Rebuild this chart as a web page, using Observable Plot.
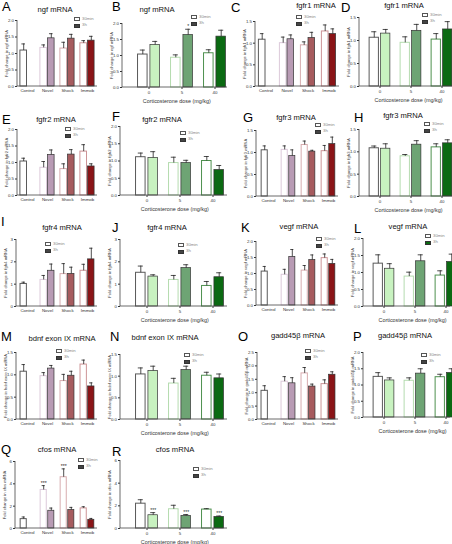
<!DOCTYPE html>
<html><head><meta charset="utf-8">
<script src="https://cdn.jsdelivr.net/npm/d3@7"></script>
<script src="https://cdn.jsdelivr.net/npm/@observablehq/plot@0.6"></script>
<style>
body{margin:0;background:#fff}
#root{position:relative;width:452px;height:544px;overflow:hidden;font-family:Arial,"Liberation Sans",sans-serif}
.abs{position:absolute;white-space:nowrap;line-height:1}
.letter{font-size:13px;color:#000;line-height:0.75}
.ttl{font-size:7.6px;color:#111;transform:translateX(-50%)}
.lgbox{position:absolute;width:6px;height:4px;box-sizing:border-box}
.lgtxt{position:absolute;font-size:4.3px;color:#888;line-height:1}
</style></head>
<body><div id="root"></div>
<script>
// categories
const stressGroups = ["Control", "Novel", "Shock", "Immob"];
const doseGroups = ["0", "5", "40"];
const timeLabels = ["30min", "3h"];
const doseAxisLabel = "Corticosterone dose (mg/kg)";
// colours
const stress30Stroke = ["#5a5a5a", "#dcc9da", "#d8acaf", "#cd9497"];
const stress3hFill = [null, "#b89bb4", "#a65b5e", "#8a1417"];
const dose30Stroke = ["#5a5a5a", "#b5dcaf", "#4e914f"];
const dose3hFill = ["#c8f2c0", "#6ea474", "#0b6a12"];
// tick values
const ticks15 = [0, 0.5, 1, 1.5];
const ticks2 = [0, 0.5, 1, 1.5, 2];
const ticks25 = [0, 0.5, 1, 1.5, 2, 2.5];
const ticks3 = [0, 1, 2, 3];
const ticks6 = [0, 2, 4, 6];

// values (mean, SEM)
const ngfStress30 = [1.09, 1.17, 1.15, 1.31], ngfStress30Sem = [0.20, 0.09, 0.19, 0.08];
const ngfStress3h = [null, 1.46, 1.45, 1.39], ngfStress3hSem = [null, 0.14, 0.13, 0.13];
const ngfCort30 = [1.03, 0.93, 1.07], ngfCort30Sem = [0.14, 0.09, 0.11];
const ngfCort3h = [1.33, 1.64, 1.59], ngfCort3hSem = [0.11, 0.18, 0.20];
const ngfCort3hStars = ["", "*", ""];

const fgfr1Stress30 = [1.08, 1.00, 0.95, 1.27], fgfr1Stress30Sem = [0.14, 0.14, 0.08, 0.15];
const fgfr1Stress3h = [null, 1.09, 1.12, 1.21], fgfr1Stress3hSem = [null, 0.10, 0.13, 0.12];
const fgfr1Cort30 = [1.06, 0.95, 1.02], fgfr1Cort30Sem = [0.13, 0.13, 0.13];
const fgfr1Cort3h = [1.15, 1.21, 1.24], fgfr1Cort3hSem = [0.09, 0.14, 0.17];

const fgfr2Stress30 = [1.03, 0.84, 0.80, 1.33], fgfr2Stress30Sem = [0.10, 0.19, 0.16, 0.21];
const fgfr2Stress3h = [null, 1.23, 1.24, 0.88], fgfr2Stress3hSem = [null, 0.15, 0.15, 0.08];
const fgfr2Cort30 = [1.11, 0.94, 1.00], fgfr2Cort30Sem = [0.12, 0.17, 0.13];
const fgfr2Cort3h = [1.09, 0.94, 0.74], fgfr2Cort3hSem = [0.18, 0.08, 0.13];

const fgfr3Stress30 = [1.05, 1.06, 1.17, 1.03], fgfr3Stress30Sem = [0.10, 0.09, 0.09, 0.13];
const fgfr3Stress3h = [null, 0.92, 1.02, 1.19], fgfr3Stress3hSem = [null, 0.14, 0.03, 0.16];
const fgfr3Cort30 = [1.08, 0.90, 1.10], fgfr3Cort30Sem = [0.05, 0.04, 0.08];
const fgfr3Cort3h = [1.07, 1.16, 1.19], fgfr3Cort3hSem = [0.11, 0.09, 0.08];

const fgfr4Stress30 = [1.01, 1.19, 1.45, 1.60], fgfr4Stress30Sem = [0.08, 0.20, 0.47, 0.29];
const fgfr4Stress3h = [null, 1.60, 1.46, 2.11], fgfr4Stress3hSem = [null, 0.30, 0.30, 0.50];
const fgfr4Cort30 = [1.51, 1.19, 0.92], fgfr4Cort30Sem = [0.30, 0.20, 0.20];
const fgfr4Cort3h = [1.34, 1.72, 1.31], fgfr4Cort3hSem = [0.08, 0.15, 0.20];

const vegfStress30 = [1.06, 0.96, 1.09, 1.48], vegfStress30Sem = [0.16, 0.17, 0.16, 0.13];
const vegfStress3h = [null, 1.52, 1.42, 1.30], vegfStress3hSem = [null, 0.23, 0.16, 0.14];
const vegfCort30 = [1.26, 0.88, 0.91], vegfCort30Sem = [0.26, 0.13, 0.14];
const vegfCort3h = [1.11, 1.33, 1.31], vegfCort3hSem = [0.15, 0.19, 0.23];

const bdnfStress30 = [1.07, 0.97, 0.86, 1.23], bdnfStress30Sem = [0.16, 0.08, 0.15, 0.10];
const bdnfStress3h = [null, 1.14, 0.98, 0.74], bdnfStress3hSem = [null, 0.07, 0.10, 0.08];
const bdnfCort30 = [1.04, 0.83, 1.01], bdnfCort30Sem = [0.15, 0.12, 0.08];
const bdnfCort3h = [1.12, 1.14, 0.95], bdnfCort3hSem = [0.11, 0.09, 0.10];

const gaddStress30 = [1.07, 1.41, 1.72, 1.32], gaddStress30Sem = [0.19, 0.19, 0.22, 0.16];
const gaddStress3h = [null, 1.35, 1.23, 1.67], gaddStress3hSem = [null, 0.21, 0.09, 0.11];
const gaddCort30 = [1.25, 1.13, 1.24], gaddCort30Sem = [0.13, 0.09, 0.09];
const gaddCort3h = [1.14, 1.35, 1.37], gaddCort3hSem = [0.08, 0.15, 0.13];

const cfosStress30 = [0.84, 3.45, 4.59, 1.80], cfosStress30Sem = [0.19, 0.39, 0.75, 0.15];
const cfosStress3h = [null, 1.59, 1.65, 0.78], cfosStress3hSem = [null, 0.24, 0.24, 0.12];
const cfosStress30Stars = ["", "***", "***", ""];
const cfosCort30 = [2.19, 1.70, 1.67], cfosCort30Sem = [0.35, 0.35, 0.08];
const cfosCort3h = [1.17, 1.11, 1.02], cfosCort3hSem = [0.23, 0.12, 0.08];
const cfosCort3hStars = ["***", "***", "***"];

const root = document.getElementById("root");

function addDiv(cls, text, left, top, extra) {
  const d = document.createElement("div");
  d.className = "abs " + cls;
  d.textContent = text;
  d.style.left = left + "px";
  d.style.top = top + "px";
  if (extra) Object.assign(d.style, extra);
  root.appendChild(d);
  return d;
}

function legend(x, y, fill3h) {
  const b1 = document.createElement("div");
  b1.className = "lgbox";
  Object.assign(b1.style, {left: x + "px", top: y + "px", border: "1px solid #555", background: "#fff"});
  const b2 = document.createElement("div");
  b2.className = "lgbox";
  Object.assign(b2.style, {left: x + "px", top: (y + 6.5) + "px", border: "1px solid #333", background: fill3h || "#444"});
  root.appendChild(b1); root.appendChild(b2);
  const t1 = document.createElement("div"); t1.className = "lgtxt"; t1.textContent = timeLabels[0];
  Object.assign(t1.style, {left: (x + 8) + "px", top: (y - 0.3) + "px"});
  const t2 = document.createElement("div"); t2.className = "lgtxt"; t2.textContent = timeLabels[1];
  Object.assign(t2.style, {left: (x + 8) + "px", top: (y + 6.2) + "px"});
  root.appendChild(t1); root.appendChild(t2);
}

function panel(p) {
  const isCort = p.kind === "cort";
  const groups = isCort ? doseGroups : stressGroups;
  const stroke30 = isCort ? dose30Stroke : stress30Stroke;
  const fill3h = isCort ? dose3hFill : stress3hFill;
  const rows30 = groups.map((g, i) => ({group: g, mean: p.m30[i], top: p.m30[i] + p.s30[i], stroke: stroke30[i], star: p.st30 ? p.st30[i] : ""}));
  const rows3h = groups.map((g, i) => ({group: g, mean: p.m3h[i], top: p.m3h[i] + p.s3h[i], fill: fill3h[i], star: p.st3h ? p.st3h[i] : ""})).filter(d => d.mean != null);
  const n = groups.length;
  const span = p.rx - p.ax;
  const start = isCort ? p.start : 0;
  const step = isCort ? p.step : span / n;
  const W = start + n * step;
  const po = start / (2 * step);
  const ml = 18, mr = 4, mt = 6, mb = isCort ? 18 : 10;
  const width = ml + W + mr, height = mt + (p.by - p.ty) + mb;
  const w = isCort ? step * 0.3 : 6.6;
  const g = isCort ? step * 0.07 : 1;
  const c30 = step / 2 - g / 2 - w / 2;
  const c3h = step / 2 + g / 2 + w / 2;
  const cw = w * 0.55;
  const fmt = p.ymax >= 3 ? d3.format("d") : d3.format(".1f");

  const plot = Plot.plot({
    width, height,
    marginLeft: ml, marginRight: mr, marginTop: mt, marginBottom: mb,
    style: {fontSize: "4.4px", fontFamily: "Arial, 'Liberation Sans', sans-serif", color: "#333", background: "transparent", overflow: "visible"},
    color: {type: "identity"},
    x: {type: "band", domain: groups, paddingInner: 0, paddingOuter: po, align: 1,
        tickSize: isCort ? 2 : 0, tickPadding: isCort ? 1.5 : 2.5,
        label: isCort ? doseAxisLabel : null, labelAnchor: "center", labelOffset: 15, labelArrow: "none"},
    y: {domain: [0, p.ymax], ticks: p.ticks, tickFormat: fmt, tickSize: 2, tickPadding: 1.5,
        label: p.ylab, labelAnchor: "center", labelOffset: 12.5, labelArrow: "none"},
    marks: [
      Plot.barY(rows30, {x: "group", y: "mean", fill: "#ffffff", stroke: "stroke", strokeWidth: 1,
        insetLeft: c30 - w / 2, insetRight: step - (c30 + w / 2)}),
      Plot.barY(rows3h, {x: "group", y: "mean", fill: "fill", stroke: "#333333", strokeWidth: 0.7,
        insetLeft: c3h - w / 2, insetRight: step - (c3h + w / 2)}),
      Plot.ruleX(rows30, {x: "group", y1: "mean", y2: "top", dx: c30 - step / 2, stroke: "#222", strokeWidth: 0.8}),
      Plot.tickY(rows30, {x: "group", y: "top", insetLeft: c30 - cw / 2, insetRight: step - c30 - cw / 2, stroke: "#222", strokeWidth: 0.8}),
      Plot.ruleX(rows3h, {x: "group", y1: "mean", y2: "top", dx: c3h - step / 2, stroke: "#222", strokeWidth: 0.8}),
      Plot.tickY(rows3h, {x: "group", y: "top", insetLeft: c3h - cw / 2, insetRight: step - c3h - cw / 2, stroke: "#222", strokeWidth: 0.8}),
      Plot.text(rows30.filter(d => d.star), {x: "group", y: "top", text: "star", dx: c30 - step / 2, dy: -2.5, fontSize: 5, fill: "#222"}),
      Plot.text(rows3h.filter(d => d.star), {x: "group", y: "top", text: "star", dx: c3h - step / 2, dy: -2.5, fontSize: 5, fill: "#222"})
    ]
  });
  // axis lines
  const ys = plot.scale("y");
  const y0 = ys.apply(0), y1 = ys.apply(p.ymax);
  const svg = d3.select(plot);
  svg.append("line").attr("x1", ml).attr("x2", ml).attr("y1", y0).attr("y2", y1).attr("stroke", "#444").attr("stroke-width", 0.8);
  svg.append("line").attr("x1", ml).attr("x2", ml + span).attr("y1", y0).attr("y2", y0).attr("stroke", "#444").attr("stroke-width", 0.8);
  svg.selectAll('[aria-label="y-axis label"] text, [aria-label="y-axis label"]').attr("font-size", "4.1px");
  svg.selectAll('[aria-label="x-axis label"] text, [aria-label="x-axis label"]').attr("font-size", "5.4px");
  plot.style.position = "absolute";
  plot.style.left = (p.ax - ml) + "px";
  plot.style.top = (p.ty - mt) + "px";
  root.appendChild(plot);

  addDiv("letter", p.letter, p.lx, p.ly);
  addDiv("ttl", p.title, p.tx, p.tyc - 4);
  legend(p.gx, p.gy, p.lgFill);
}

const C1 = {start: 8, step: 33.5};
const C3 = {start: 5, step: 31};

const panels = [
  {letter: "A", kind: "stress", title: "ngf mRNA", ylab: "Fold change in ngf mRNA", m30: ngfStress30, s30: ngfStress30Sem, m3h: ngfStress3h, s3h: ngfStress3hSem, ymax: 2, ticks: ticks2,
   ax: 17, rx: 97, ty: 20, by: 86, lx: 2, ly: 2, tx: 55, tyc: 10, gx: 74, gy: 17},
  {letter: "B", kind: "cort", ...C1, title: "ngf mRNA", ylab: "Fold change in ngf mRNA", m30: ngfCort30, s30: ngfCort30Sem, m3h: ngfCort3h, s3h: ngfCort3hSem, st3h: ngfCort3hStars, ymax: 2, ticks: ticks2,
   ax: 122, rx: 227, ty: 23, by: 87, lx: 112, ly: 2, tx: 157, tyc: 10, gx: 191, gy: 15},
  {letter: "C", kind: "stress", title: "fgfr1 mRNA", ylab: "Fold change in fgfr1 mRNA", m30: fgfr1Stress30, s30: fgfr1Stress30Sem, m3h: fgfr1Stress3h, s3h: fgfr1Stress3hSem, ymax: 1.5, ticks: ticks15,
   ax: 255, rx: 339, ty: 21, by: 86, lx: 231, ly: 3, tx: 316, tyc: 6, gx: 296, gy: 15},
  {letter: "D", kind: "cort", ...C3, title: "fgfr1 mRNA", ylab: "Fold change in fgfr1 mRNA", m30: fgfr1Cort30, s30: fgfr1Cort30Sem, m3h: fgfr1Cort3h, s3h: fgfr1Cort3hSem, ymax: 1.5, ticks: ticks15,
   ax: 359, rx: 452, ty: 17, by: 86, lx: 341, ly: 3, tx: 404, tyc: 6, gx: 422, gy: 13},
  {letter: "E", kind: "stress", title: "fgfr2 mRNA", ylab: "Fold change in fgfr2 mRNA", m30: fgfr2Stress30, s30: fgfr2Stress30Sem, m3h: fgfr2Stress3h, s3h: fgfr2Stress3hSem, ymax: 2, ticks: ticks2,
   ax: 17, rx: 97, ty: 129, by: 195, lx: 2, ly: 115, tx: 56, tyc: 120, gx: 65, gy: 127},
  {letter: "F", kind: "cort", ...C1, title: "fgfr2 mRNA", ylab: "Fold change in fgfr2 mRNA", m30: fgfr2Cort30, s30: fgfr2Cort30Sem, m3h: fgfr2Cort3h, s3h: fgfr2Cort3hSem, ymax: 2, ticks: ticks2,
   ax: 120, rx: 227, ty: 126, by: 195, lx: 112, ly: 112, tx: 162, tyc: 120, gx: 180, gy: 131},
  {letter: "G", kind: "stress", title: "fgfr3 mRNA", ylab: "Fold change in fgfr3 mRNA", m30: fgfr3Stress30, s30: fgfr3Stress30Sem, m3h: fgfr3Stress3h, s3h: fgfr3Stress3hSem, ymax: 1.5, ticks: ticks15,
   ax: 256, rx: 338, ty: 130, by: 196, lx: 243, ly: 113, tx: 296, tyc: 118, gx: 315, gy: 123},
  {letter: "H", kind: "cort", ...C3, title: "fgfr3 mRNA", ylab: "Fold change in fgfr3 mRNA", m30: fgfr3Cort30, s30: fgfr3Cort30Sem, m3h: fgfr3Cort3h, s3h: fgfr3Cort3hSem, ymax: 1.5, ticks: ticks15,
   ax: 359, rx: 452, ty: 129, by: 196, lx: 354, ly: 113, tx: 403, tyc: 116, gx: 424, gy: 122},
  {letter: "I", kind: "stress", title: "fgfr4 mRNA", ylab: "Fold change in fgfr4 mRNA", m30: fgfr4Stress30, s30: fgfr4Stress30Sem, m3h: fgfr4Stress3h, s3h: fgfr4Stress3hSem, ymax: 3, ticks: ticks3,
   ax: 16, rx: 97, ty: 239, by: 306, lx: 1, ly: 217, tx: 62, tyc: 228, gx: 45, gy: 242},
  {letter: "J", kind: "cort", ...C1, title: "fgfr4 mRNA", ylab: "Fold change in fgfr4 mRNA", m30: fgfr4Cort30, s30: fgfr4Cort30Sem, m3h: fgfr4Cort3h, s3h: fgfr4Cort3hSem, ymax: 3, ticks: ticks3,
   ax: 120, rx: 227, ty: 239, by: 306, lx: 112, ly: 223, tx: 167, tyc: 228, gx: 178, gy: 243},
  {letter: "K", kind: "stress", title: "vegf mRNA", ylab: "Fold change in vegf mRNA", m30: vegfStress30, s30: vegfStress30Sem, m3h: vegfStress3h, s3h: vegfStress3hSem, ymax: 2, ticks: ticks2,
   ax: 256, rx: 338, ty: 241, by: 305, lx: 241, ly: 223, tx: 299, tyc: 227, gx: 316, gy: 237},
  {letter: "L", kind: "cort", ...C3, title: "vegf mRNA", ylab: "Fold change in vegf mRNA", m30: vegfCort30, s30: vegfCort30Sem, m3h: vegfCort3h, s3h: vegfCort3hSem, ymax: 2, ticks: ticks2,
   ax: 363, rx: 450, ty: 238, by: 306, lx: 354, ly: 224, tx: 408, tyc: 227, gx: 425, gy: 234, lgFill: "#0b6a12"},
  {letter: "M", kind: "stress", title: "bdnf exon IX mRNA", ylab: "Fold change in bdnf exon IX mRNA", m30: bdnfStress30, s30: bdnfStress30Sem, m3h: bdnfStress3h, s3h: bdnfStress3hSem, ymax: 1.5, ticks: ticks15,
   ax: 16, rx: 97, ty: 352, by: 419, lx: 1, ly: 332, tx: 62, tyc: 339, gx: 56, gy: 349},
  {letter: "N", kind: "cort", ...C1, title: "bdnf exon IX mRNA", ylab: "Fold change in bdnf exon IX mRNA", m30: bdnfCort30, s30: bdnfCort30Sem, m3h: bdnfCort3h, s3h: bdnfCort3hSem, ymax: 1.5, ticks: ticks15,
   ax: 120, rx: 227, ty: 354, by: 419, lx: 110, ly: 332, tx: 165, tyc: 338, gx: 184, gy: 353},
  {letter: "O", kind: "stress", title: "gadd45β mRNA", ylab: "Fold change in gadd45β mRNA", m30: gaddStress30, s30: gaddStress30Sem, m3h: gaddStress3h, s3h: gaddStress3hSem, ymax: 2.5, ticks: ticks25,
   ax: 257, rx: 338, ty: 352, by: 419, lx: 238, ly: 332, tx: 298, tyc: 336, gx: 305, gy: 349},
  {letter: "P", kind: "cort", ...C3, title: "gadd45β mRNA", ylab: "Fold change in gadd45β mRNA", m30: gaddCort30, s30: gaddCort30Sem, m3h: gaddCort3h, s3h: gaddCort3hSem, ymax: 2, ticks: ticks2,
   ax: 363, rx: 450, ty: 352, by: 417, lx: 353, ly: 332, tx: 405, tyc: 336, gx: 421, gy: 353},
  {letter: "Q", kind: "stress", title: "cfos mRNA", ylab: "Fold change in cfos mRNA", m30: cfosStress30, s30: cfosStress30Sem, m3h: cfosStress3h, s3h: cfosStress3hSem, st30: cfosStress30Stars, ymax: 6, ticks: ticks6,
   ax: 15, rx: 97, ty: 461, by: 528, lx: 1, ly: 445, tx: 57, tyc: 450, gx: 78, gy: 458},
  {letter: "R", kind: "cort", ...C1, title: "cfos mRNA", ylab: "Fold change in cfos mRNA", m30: cfosCort30, s30: cfosCort30Sem, m3h: cfosCort3h, s3h: cfosCort3hSem, st3h: cfosCort3hStars, ymax: 6, ticks: ticks6,
   ax: 120, rx: 227, ty: 460, by: 528, lx: 112, ly: 447, tx: 175, tyc: 450, gx: 193, gy: 467}
];

panels.forEach(panel);
</script></body></html>
